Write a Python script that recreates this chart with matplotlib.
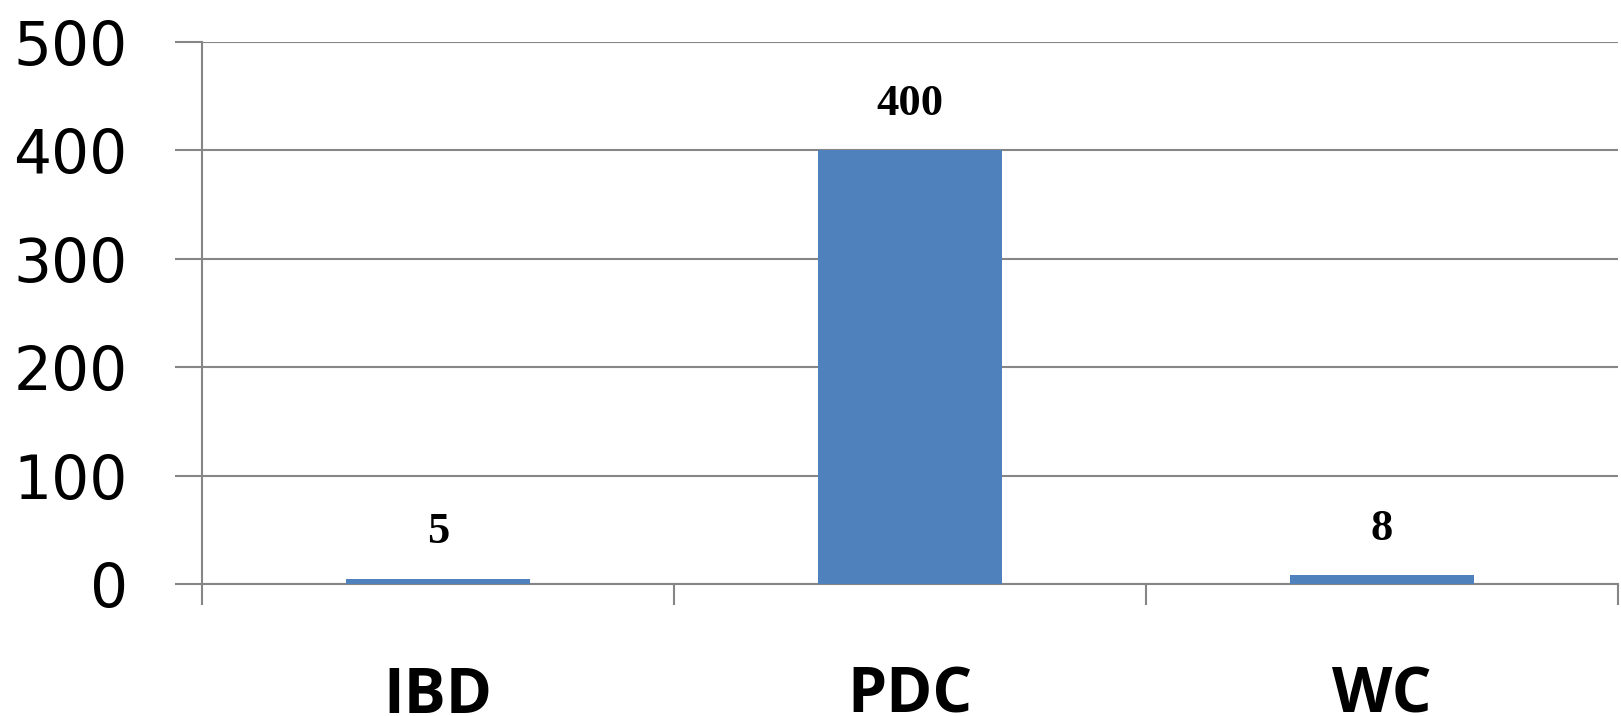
import matplotlib.pyplot as plt
import numpy as np

categories = ["IBD", "PDC", "WC"]
values = [5, 400, 8]
y_ticks = [0, 100, 200, 300, 400, 500]

bar_color = "#4F81BD"
line_color = "#868686"

fig = plt.figure(figsize=(16.21, 7.16), dpi=100)
ax = fig.add_axes([0.1246, 0.1844, 0.998 - 0.1246, 0.9413 - 0.1844])

x = np.arange(len(categories)) + 0.5
bars = ax.bar(x, values, width=0.39, color=bar_color, zorder=3)

# value labels above the bars
for xi, v in zip(x, values):
    ax.annotate(str(v), (xi, v), xytext=(0, 19), textcoords="offset points",
                ha="center", va="bottom", fontsize=32, fontweight="bold",
                family="Liberation Serif", color="black")

ax.set_xlim(0, len(categories))
ax.set_ylim(0, 500)
ax.set_yticks(y_ticks)
ax.set_yticklabels([str(t) for t in y_ticks], fontsize=43, family="DejaVu Sans")
ax.tick_params(axis="y", length=19.5, width=1.5, color=line_color, pad=34)

# category boundaries as major ticks, labels on minor ticks
ax.set_xticks(np.arange(len(categories) + 1))
ax.set_xticklabels([])
ax.set_xticks(x, minor=True)
ax.set_xticklabels(categories, minor=True, fontsize=45, fontweight="bold",
                   family="Open Sans")
ax.tick_params(axis="x", which="major", length=15, width=1.5, color=line_color)
ax.tick_params(axis="x", which="minor", length=0, pad=58)

ax.grid(axis="y", color=line_color, linewidth=1.5, zorder=0)
for side in ["top", "right"]:
    ax.spines[side].set_visible(False)
for side in ["left", "bottom"]:
    ax.spines[side].set_color(line_color)
    ax.spines[side].set_linewidth(1.5)

fig.savefig("out.png", dpi=100)
